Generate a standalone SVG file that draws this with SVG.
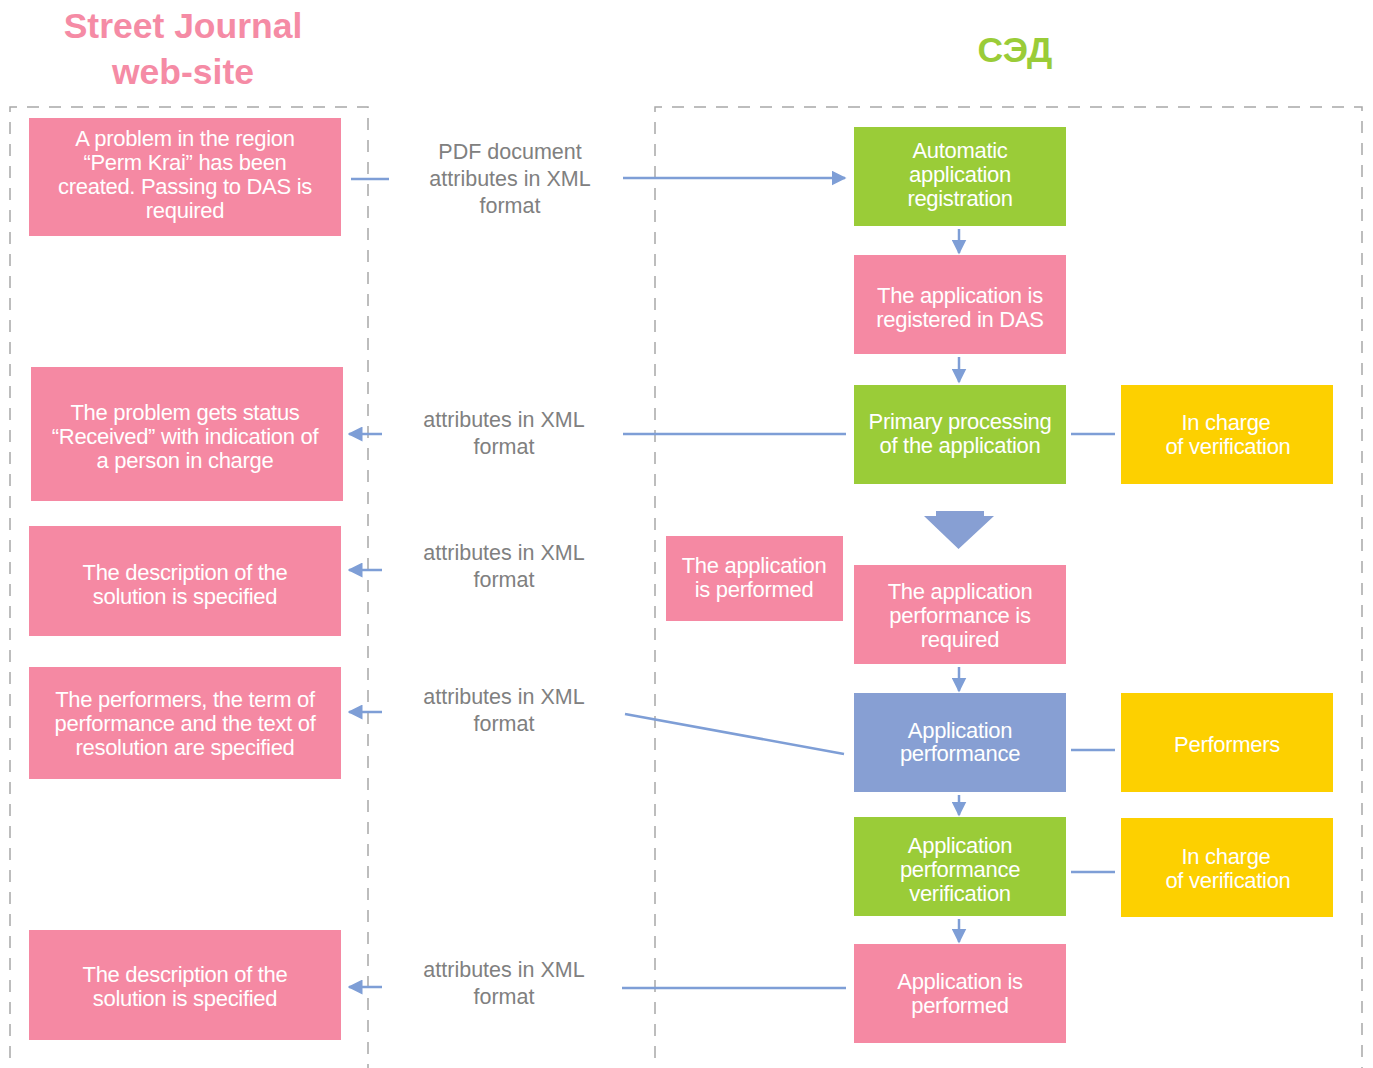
<svg xmlns="http://www.w3.org/2000/svg" width="1373" height="1068" viewBox="0 0 1373 1068">
<defs>
<style>
.pink{fill:#F589A3}
.green{fill:#9ACC38}
.blue{fill:#879FD3}
.yellow{fill:#FDD000}
.t{font-family:"Liberation Sans",Arial,sans-serif;font-size:22px;fill:#fff;text-anchor:middle;letter-spacing:-0.3px}
.lbl{font-family:"Liberation Sans",Arial,sans-serif;font-size:21.5px;fill:#808080;text-anchor:middle}
.c{stroke:#7E9ED6;stroke-width:2.5;fill:none}
.frame{stroke:#A8A8A8;stroke-width:1.5;fill:none;stroke-dasharray:12 10}
.title{font-family:"Liberation Sans",Arial,sans-serif;font-size:35.5px;font-weight:bold;text-anchor:middle}
</style>
<marker id="ah" viewBox="0 0 10 10" refX="9" refY="5" markerWidth="6" markerHeight="6" orient="auto" markerUnits="strokeWidth"><path d="M0,0 L10,5 L0,10 z" fill="#7E9ED6"/></marker>
</defs>
<rect width="1373" height="1068" fill="#fff"/>
<text class="title" x="183" y="38" fill="#F58BA5">Street Journal</text>
<text class="title" x="183" y="84" fill="#F58BA5">web-site</text>
<text class="title" x="1015" y="62" fill="#9ACC38">СЭД</text>
<path class="frame" d="M10,1080 V107 H368 V1080"/>
<path class="frame" d="M655,1080 V107 H1362 V1080"/>

<g id="connectors">
<line class="c" x1="351" y1="179" x2="389" y2="179"/>
<line class="c" x1="623" y1="178" x2="845" y2="178" marker-end="url(#ah)"/>
<line class="c" x1="382" y1="434" x2="349" y2="434" marker-end="url(#ah)"/>
<line class="c" x1="623" y1="434" x2="846" y2="434"/>
<line class="c" x1="382" y1="570" x2="349" y2="570" marker-end="url(#ah)"/>
<line class="c" x1="382" y1="712" x2="349" y2="712" marker-end="url(#ah)"/>
<line class="c" x1="625" y1="714" x2="844" y2="754"/>
<line class="c" x1="382" y1="987" x2="349" y2="987" marker-end="url(#ah)"/>
<line class="c" x1="622" y1="988" x2="846" y2="988"/>
<line class="c" x1="1071" y1="434" x2="1115" y2="434"/>
<line class="c" x1="1071" y1="750" x2="1115" y2="750"/>
<line class="c" x1="1071" y1="872" x2="1115" y2="872"/>
<line class="c" x1="959" y1="229" x2="959" y2="253" marker-end="url(#ah)"/>
<line class="c" x1="959" y1="357" x2="959" y2="382" marker-end="url(#ah)"/>
<line class="c" x1="959" y1="667" x2="959" y2="691" marker-end="url(#ah)"/>
<line class="c" x1="959" y1="795" x2="959" y2="815" marker-end="url(#ah)"/>
<line class="c" x1="959" y1="919" x2="959" y2="942" marker-end="url(#ah)"/>
<path d="M936,511 H984 V516 H994 L958.5,549 L924,516 H936 Z" fill="#879FD3"/>
<text class="lbl"><tspan x="510" y="159">PDF document</tspan><tspan x="510" y="186">attributes in XML</tspan><tspan x="510" y="213">format</tspan></text>
<text class="lbl"><tspan x="504" y="427">attributes in XML</tspan><tspan x="504" y="454">format</tspan></text>
<text class="lbl"><tspan x="504" y="560">attributes in XML</tspan><tspan x="504" y="587">format</tspan></text>
<text class="lbl"><tspan x="504" y="704">attributes in XML</tspan><tspan x="504" y="731">format</tspan></text>
<text class="lbl"><tspan x="504" y="977">attributes in XML</tspan><tspan x="504" y="1004">format</tspan></text>
</g>

<g id="n1"><rect class="pink" x="29" y="118" width="312" height="118"/><text class="t"><tspan x="185" y="146">A problem in the region</tspan><tspan x="185" y="170">“Perm Krai” has been</tspan><tspan x="185" y="194">created. Passing to DAS is</tspan><tspan x="185" y="218">required</tspan></text></g>
<g id="n2"><rect class="pink" x="31" y="367" width="312" height="134"/><text class="t"><tspan x="185" y="420">The problem gets status</tspan><tspan x="185" y="444">“Received” with indication of</tspan><tspan x="185" y="468">a person in charge</tspan></text></g>
<g id="n3"><rect class="pink" x="29" y="526" width="312" height="110"/><text class="t"><tspan x="185" y="580">The description of the</tspan><tspan x="185" y="604">solution is specified</tspan></text></g>
<g id="n4"><rect class="pink" x="29" y="667" width="312" height="112"/><text class="t"><tspan x="185" y="707">The performers, the term of</tspan><tspan x="185" y="731">performance and the text of</tspan><tspan x="185" y="755">resolution are specified</tspan></text></g>
<g id="n5"><rect class="pink" x="29" y="930" width="312" height="110"/><text class="t"><tspan x="185" y="982">The description of the</tspan><tspan x="185" y="1006">solution is specified</tspan></text></g>

<g id="a1"><rect class="green" x="854" y="127" width="212" height="99"/><text class="t"><tspan x="960" y="158">Automatic</tspan><tspan x="960" y="182">application</tspan><tspan x="960" y="206">registration</tspan></text></g>
<g id="a2"><rect class="pink" x="854" y="255" width="212" height="99"/><text class="t"><tspan x="960" y="303">The application is</tspan><tspan x="960" y="327">registered in DAS</tspan></text></g>
<g id="a3"><rect class="green" x="854" y="385" width="212" height="99"/><text class="t"><tspan x="960" y="429">Primary processing</tspan><tspan x="960" y="453">of the application</tspan></text></g>
<g id="a4"><rect class="pink" x="854" y="565" width="212" height="99"/><text class="t"><tspan x="960" y="599">The application</tspan><tspan x="960" y="623">performance is</tspan><tspan x="960" y="647">required</tspan></text></g>
<g id="a5"><rect class="blue" x="854" y="693" width="212" height="99"/><text class="t"><tspan x="960" y="738">Application</tspan><tspan x="960" y="761">performance</tspan></text></g>
<g id="a6"><rect class="green" x="854" y="817" width="212" height="99"/><text class="t"><tspan x="960" y="853">Application</tspan><tspan x="960" y="877">performance</tspan><tspan x="960" y="901">verification</tspan></text></g>
<g id="a7"><rect class="pink" x="854" y="944" width="212" height="99"/><text class="t"><tspan x="960" y="989">Application is</tspan><tspan x="960" y="1013">performed</tspan></text></g>
<g id="s1"><rect class="pink" x="666" y="536" width="177" height="85"/><text class="t"><tspan x="754" y="573">The application</tspan><tspan x="754" y="597">is performed</tspan></text></g>
<g id="y1"><rect class="yellow" x="1121" y="385" width="212" height="99"/><text class="t"><tspan x="1226" y="430">In charge</tspan><tspan x="1228" y="454">of verification</tspan></text></g>
<g id="y2"><rect class="yellow" x="1121" y="693" width="212" height="99"/><text class="t"><tspan x="1227" y="752">Performers</tspan></text></g>
<g id="y3"><rect class="yellow" x="1121" y="818" width="212" height="99"/><text class="t"><tspan x="1226" y="864">In charge</tspan><tspan x="1228" y="888">of verification</tspan></text></g>
</svg>
